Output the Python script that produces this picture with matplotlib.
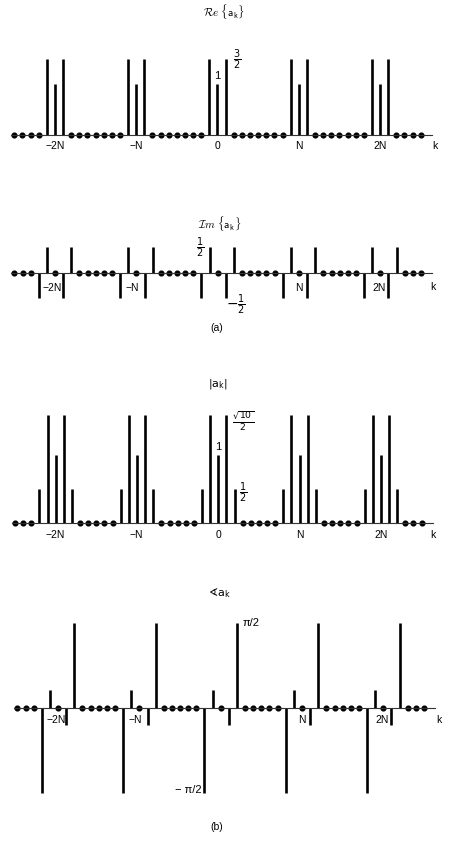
import numpy as np
import matplotlib.pyplot as plt

plt.rcParams['font.family'] = ['Liberation Sans', 'DejaVu Sans']
plt.rcParams['mathtext.fontset'] = 'dejavusans'

N = 10
k = np.arange(-25, 26)

# one period of the coefficients, k = 0 .. N-1
re_period = [1.0, 1.5, 0, 0, 0, 0, 0, 0, 0, 1.5]
im_period = [0, -0.5, 0.5, 0, 0, 0, 0, 0, -0.5, 0.5]
mag_period = [1.0, 1.58, 0.5, 0, 0, 0, 0, 0, 0.5, 1.58]
phase_period = [0, -0.32, 1.571, 0, 0, 0, 0, 0, -1.571, 0.32]

tick_labels = ['−2N', '−N', '0', 'N', '2N']

W, H = 454, 848
S = 8.13            # pixels per k
XLO, XHI = -25.4, 26.4

fig = plt.figure(figsize=(W / 100, H / 100), dpi=100)


def panel(cx, axis_y, ppu, ylo, yhi):
    """axes whose k=0, y=0 point sits at pixel (cx, axis_y)"""
    left = cx + XLO * S
    bottom_px = axis_y - ylo * ppu
    ax = fig.add_axes([left / W, 1 - bottom_px / H,
                       (XHI - XLO) * S / W, (yhi - ylo) * ppu / H])
    ax.set_xlim(XLO, XHI)
    ax.set_ylim(ylo, yhi)
    for s in ['top', 'right', 'left']:
        ax.spines[s].set_visible(False)
    ax.spines['bottom'].set_position(('data', 0))
    ax.spines['bottom'].set_linewidth(0.8)
    ax.spines['bottom'].set_color('#333333')
    ax.set_xticks([])
    ax.set_yticks([])
    ax.patch.set_alpha(0)
    return ax


def stems(ax, period):
    v = np.take(period, k % N)
    nz = v != 0
    ax.vlines(k[nz], 0, v[nz], color='black', lw=1.9)
    ax.plot(k[~nz], v[~nz], 'o', color='black', ms=3.4, clip_on=False)


def label(x, y, s, size=7.5, **kw):
    fig.text(x / W, 1 - y / H, s, ha=kw.pop('ha', 'center'), va=kw.pop('va', 'center'),
             fontsize=size, **kw)


# Re{a_k}
ax1 = panel(217.5, 135, 51, -0.5, 2.0)
stems(ax1, re_period)
label(224, 12, r'$\mathcal{R}\mathit{e}\ \{\mathsf{a_k}\}$', size=8, math_fontfamily='cm')
for x, t in zip([54.7, 136.3, 217.5, 298.7, 380], tick_labels):
    label(x, 146, t)
label(435, 146, 'k')
label(217, 76, '1', size=8)
label(237, 60, r'$\frac{3}{2}$', size=10)

# Im{a_k}
ax2 = panel(217.7, 272.7, 51, -1.0, 1.0)
stems(ax2, im_period)
label(220, 224, r'$\mathcal{I}\mathit{m}\ \{\mathsf{a_k}\}$', size=8, math_fontfamily='cm')
for x, t in zip([52, 132, 299.3, 379.3], ['−2N', '−N', 'N', '2N']):
    label(x, 288, t)
label(433, 287, 'k')
label(200, 248, r'$\frac{1}{2}$', size=10)
label(236, 305, r'$-\frac{1}{2}$', size=10)
label(217, 328, '(a)')

# |a_k|
ax3 = panel(218.3, 523, 68.5, -0.5, 2.0)
stems(ax3, mag_period)
label(218, 384, r'$|\mathrm{a_k}|$', size=8)
for x, t in zip([55.6, 136.7, 218.3, 300, 381], tick_labels):
    label(x, 535, t)
label(433, 535, 'k')
label(218, 447, '1', size=8)
label(243, 421, r'$\frac{\sqrt{10}}{2}$', size=9.5)
label(243, 493, r'$\frac{1}{2}$', size=10)

# phase of a_k
ax4 = panel(220.7, 707.7, 54.1, -2.0, 2.0)
stems(ax4, phase_period)
label(219, 593, r'$\sphericalangle\mathrm{a_k}$', size=8)
for x, t in zip([56, 135, 301.7, 381.7], ['−2N', '−N', 'N', '2N']):
    label(x, 720, t)
label(439, 720, 'k')
label(243, 623, 'π/2', ha='left', size=8)
label(202, 790, '− π/2', ha='right', size=8)
label(217, 827, '(b)')

fig.savefig('out.png', dpi=100, facecolor='white')
